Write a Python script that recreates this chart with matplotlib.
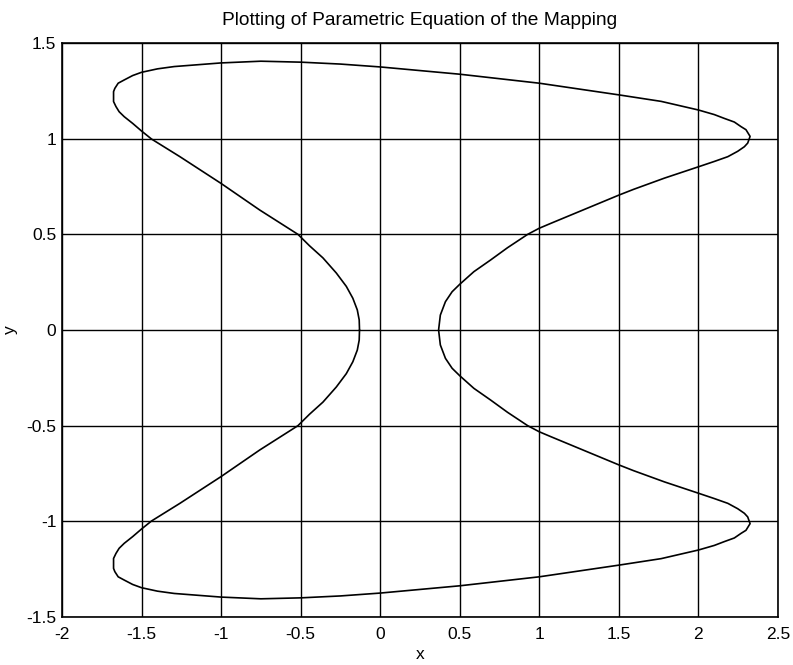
import matplotlib
matplotlib.use("Agg")
import matplotlib.pyplot as plt

# Curve points (closed loop, traced counter-clockwise from the left inner tip)
x_vals = [
    -0.130, -0.132, -0.144, -0.172, -0.213, -0.276, -0.360, -0.444, -0.517, -0.757,
    -1.000, -1.259, -1.437, -1.500, -1.556, -1.609, -1.641, -1.661, -1.676, -1.676,
    -1.668, -1.647, -1.609, -1.556, -1.500, -1.400, -1.295, -1.000, -0.750, -0.500,
    -0.250, 0.000, 0.500, 1.000, 1.500, 1.766, 2.000, 2.100, 2.163, 2.226, 2.268,
    2.299, 2.325, 2.310, 2.289, 2.247, 2.185, 2.100, 2.000, 1.787, 1.592,
    1.500, 1.074, 1.000, 0.927, 0.800, 0.694, 0.589, 0.500, 0.452, 0.410, 0.378,
    0.367,
    0.378, 0.410, 0.452, 0.500, 0.589, 0.694, 0.800, 0.927, 1.000, 1.074, 1.500,
    1.592, 1.787, 2.000, 2.100, 2.185, 2.247, 2.289, 2.310, 2.325, 2.299,
    2.268, 2.226, 2.163, 2.100, 2.000, 1.766, 1.500, 1.000, 0.500, 0.000, -0.250,
    -0.500, -0.750, -1.000, -1.295, -1.400, -1.500, -1.556, -1.609, -1.647, -1.668,
    -1.676, -1.676, -1.661, -1.641, -1.609, -1.556, -1.500, -1.437, -1.259, -1.000,
    -0.757, -0.517, -0.444, -0.360, -0.276, -0.213, -0.172, -0.144, -0.132, -0.130,
]
y_vals = [
    0.000, 0.053, 0.105, 0.166, 0.228, 0.298, 0.377, 0.440, 0.500, 0.627,
    0.766, 0.906, 0.998, 1.040, 1.080, 1.115, 1.141, 1.168, 1.194, 1.246,
    1.263, 1.290, 1.307, 1.330, 1.347, 1.365, 1.377, 1.396, 1.405, 1.400,
    1.390, 1.375, 1.337, 1.290, 1.229, 1.195, 1.150, 1.126, 1.106, 1.087, 1.063,
    1.047, 1.012, 0.977, 0.958, 0.934, 0.906, 0.881, 0.853, 0.794, 0.735,
    0.705, 0.558, 0.532, 0.500, 0.430, 0.366, 0.305, 0.239, 0.200, 0.148, 0.078,
    0.000,
    -0.078, -0.148, -0.200, -0.239, -0.305, -0.366, -0.430, -0.500, -0.532, -0.558, -0.705,
    -0.735, -0.794, -0.853, -0.881, -0.906, -0.934, -0.958, -0.977, -1.012, -1.047,
    -1.063, -1.087, -1.106, -1.126, -1.150, -1.195, -1.229, -1.290, -1.337, -1.375, -1.390,
    -1.400, -1.405, -1.396, -1.377, -1.365, -1.347, -1.330, -1.307, -1.290, -1.263,
    -1.246, -1.194, -1.168, -1.141, -1.115, -1.080, -1.040, -0.998, -0.906, -0.766,
    -0.627, -0.500, -0.440, -0.377, -0.298, -0.228, -0.166, -0.105, -0.053, 0.000,
]

x_ticks = [-2, -1.5, -1, -0.5, 0, 0.5, 1, 1.5, 2, 2.5]
x_tick_labels = ["-2", "-1.5", "-1", "-0.5", "0", "0.5", "1", "1.5", "2", "2.5"]
y_ticks = [-1.5, -1, -0.5, 0, 0.5, 1, 1.5]
y_tick_labels = ["-1.5", "-1", "-0.5", "0", "0.5", "1", "1.5"]

plt.rcParams["font.family"] = ["Liberation Sans", "DejaVu Sans"]

fig = plt.figure(figsize=(7.93, 6.65), dpi=100)
ax = fig.add_axes([0.0782, 0.0722, 0.9028, 0.8631])

ax.plot(x_vals, y_vals, color="black", linewidth=1.2,
        solid_joinstyle="round", solid_capstyle="round")

ax.set_xlim(-2, 2.5)
ax.set_ylim(-1.5, 1.5)
ax.set_xticks(x_ticks)
ax.set_xticklabels(x_tick_labels)
ax.set_yticks(y_ticks)
ax.set_yticklabels(y_tick_labels)
ax.grid(True, color="black", linewidth=1.0, linestyle="-")
ax.set_axisbelow(True)
ax.tick_params(direction="in", length=0, labelsize=12.5, colors="black")
ax.tick_params(axis="x", pad=7)
ax.tick_params(axis="y", pad=4)
for s in ax.spines.values():
    s.set_color("black")
    s.set_linewidth(1.2)

ax.set_title("Plotting of Parametric Equation of the Mapping", fontsize=13.8, pad=13)
ax.set_xlabel("x", fontsize=12.5)
ax.set_ylabel("y", fontsize=12.5)
ax.xaxis.set_label_coords(0.5, -0.052)
ax.yaxis.set_label_coords(-0.062, 0.5)

fig.savefig("out.png", dpi=100)
